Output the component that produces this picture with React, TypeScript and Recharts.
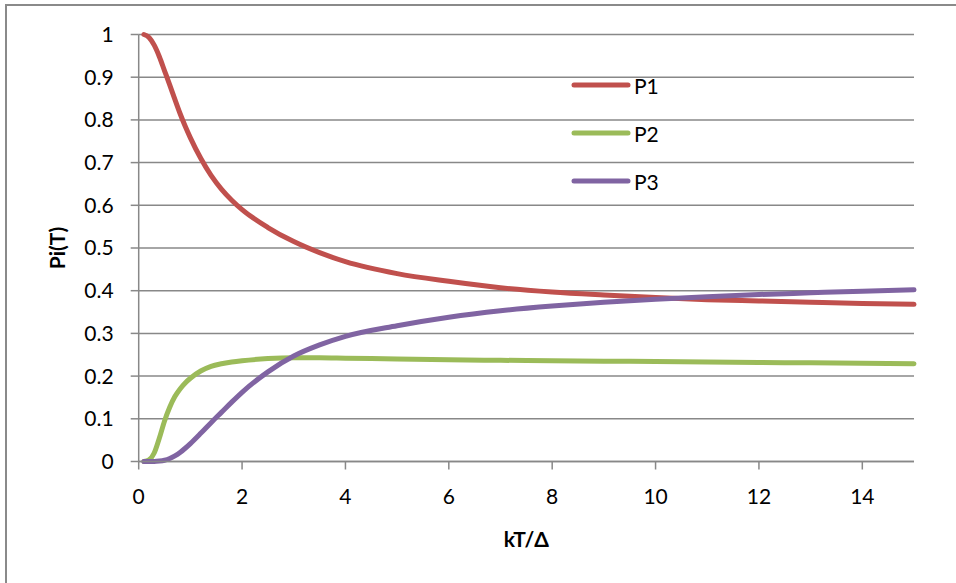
import React from 'react';
import { LineChart, Line, XAxis, YAxis, CartesianGrid, Legend } from 'recharts';

const kT = [0.1, 0.2, 0.3, 0.4, 0.5, 0.6, 0.7, 0.8, 0.9, 1.0, 1.2, 1.4, 1.6, 1.8, 2.0, 2.5, 3, 3.5, 4, 5, 6, 7, 8, 9, 10, 11, 12, 13, 14, 15];
const P1 = [1.0, 0.993, 0.975, 0.948, 0.915, 0.882, 0.848, 0.815, 0.785, 0.758, 0.71, 0.67, 0.638, 0.612, 0.59, 0.548, 0.515, 0.489, 0.468, 0.44, 0.422, 0.407, 0.397, 0.39, 0.384, 0.379, 0.376, 0.373, 0.37, 0.368];
const P2 = [0.0, 0.004, 0.02, 0.055, 0.095, 0.127, 0.152, 0.17, 0.184, 0.195, 0.212, 0.223, 0.229, 0.233, 0.236, 0.241, 0.243, 0.243, 0.242, 0.24, 0.238, 0.237, 0.236, 0.235, 0.234, 0.233, 0.232, 0.231, 0.23, 0.229];
const P3 = [0.0, 0.0, 0.0, 0.001, 0.003, 0.007, 0.013, 0.021, 0.031, 0.042, 0.066, 0.091, 0.115, 0.139, 0.162, 0.21, 0.247, 0.273, 0.293, 0.318, 0.338, 0.353, 0.364, 0.373, 0.38, 0.386, 0.391, 0.395, 0.399, 0.402];

const xTicks = [0, 2, 4, 6, 8, 10, 12, 14];
const yTicks = [0, 0.1, 0.2, 0.3, 0.4, 0.5, 0.6, 0.7, 0.8, 0.9, 1];
const seriesNames = ['P1', 'P2', 'P3'];
const colors = ['#C0504D', '#9BBB59', '#8064A2'];

const data = kT.map((x, i) => ({ x, P1: P1[i], P2: P2[i], P3: P3[i] }));

const FONT = 'Lato, "Open Sans", sans-serif';

const LegendContent = () => (
  <div style={{ fontFamily: FONT }}>
    {seriesNames.map((n, i) => (
      <div key={n} style={{ display: 'flex', alignItems: 'center', height: 48 }}>
        <svg width={61} height={10} style={{ display: 'block' }}>
          <line x1={3} y1={5} x2={57} y2={5} stroke={colors[i]} strokeWidth={5} strokeLinecap="round" />
        </svg>
        <span style={{ fontSize: 21, color: '#000', marginLeft: 2 }}>{n}</span>
      </div>
    ))}
  </div>
);

export default function App() {
  return (
    <div style={{ position: 'absolute', left: 0, top: 0, width: 956, height: 583, background: '#fff', overflow: 'hidden' }}>
      <div style={{ position: 'absolute', left: 5, top: 4, width: 1000, height: 700, borderLeft: '2px solid #8a8a8a', borderTop: '2px solid #8a8a8a' }} />
      <div style={{ position: 'absolute', left: 0, top: 0 }}>
        <LineChart width={956} height={583} data={data} margin={{ top: 34.5, right: 42, bottom: 91.5, left: 0 }}>
          <CartesianGrid vertical={false} stroke="#888" strokeWidth={1.5} />
          <XAxis
            dataKey="x"
            type="number"
            domain={[0, 15]}
            ticks={xTicks}
            interval={0}
            height={30}
            stroke="#888"
            strokeWidth={1.5}
            tickSize={8}
            tickMargin={20}
            tick={{ fill: '#000', fontSize: 21, fontFamily: FONT }}
            label={{ value: 'kT/Δ', position: 'bottom', offset: 41, style: { fill: '#000', fontSize: 21, fontWeight: 'bold', fontFamily: FONT } }}
          />
          <YAxis
            type="number"
            domain={[0, 1]}
            ticks={yTicks}
            interval={0}
            width={138.7}
            stroke="#888"
            strokeWidth={1.5}
            tickSize={8}
            tickMargin={17}
            tick={{ fill: '#000', fontSize: 21, fontFamily: FONT }}
            label={{ value: 'Pi(T)', angle: -90, position: 'insideLeft', offset: 58, style: { fill: '#000', fontSize: 21, fontWeight: 'bold', fontFamily: FONT, textAnchor: 'middle' } }}
          />
          <Legend
            layout="vertical"
            verticalAlign="middle"
            align="center"
            content={<LegendContent />}
            wrapperStyle={{ left: 571, top: 61, width: 120 }}
          />
          {seriesNames.map((n, i) => (
            <Line
              key={n}
              type="monotone"
              dataKey={n}
              stroke={colors[i]}
              strokeWidth={5}
              dot={false}
              isAnimationActive={false}
              strokeLinecap="round"
            />
          ))}
        </LineChart>
      </div>
    </div>
  );
}
